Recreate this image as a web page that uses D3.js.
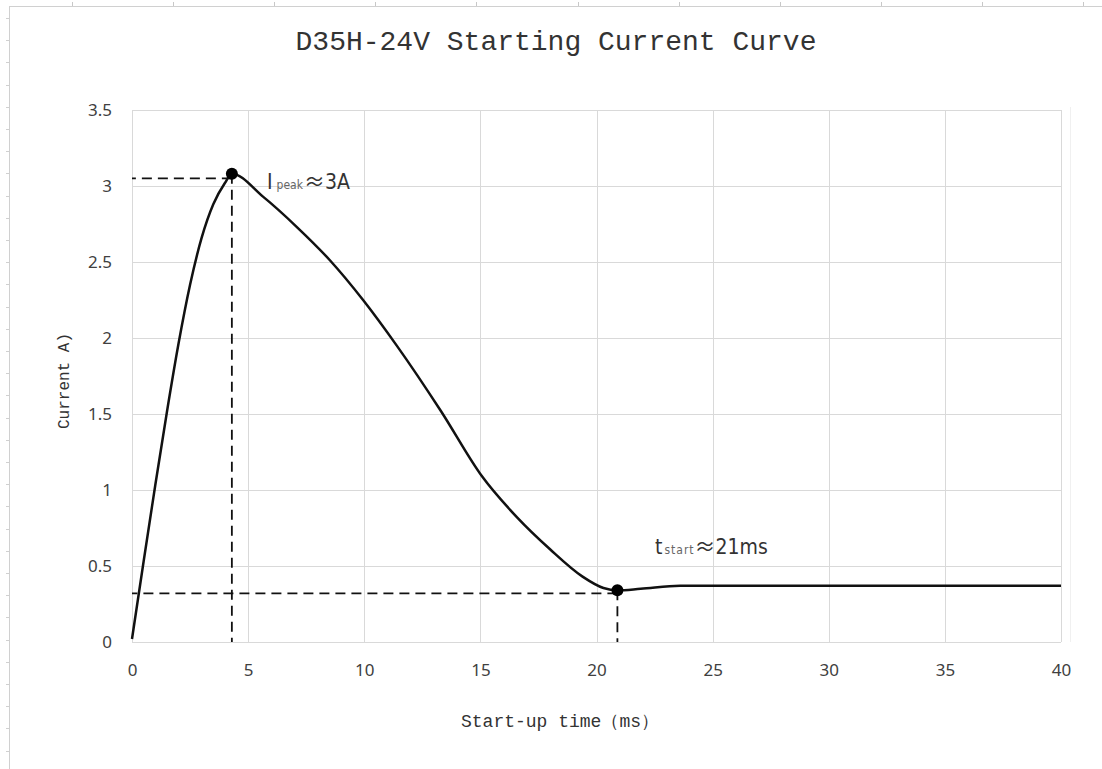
<!DOCTYPE html>
<html>
<head>
<meta charset="utf-8">
<script src="https://cdn.jsdelivr.net/npm/d3@7"></script>
<style>
  body { margin: 0; background: #fff; }
  .tick text { font-family: "Noto Sans", "Open Sans", sans-serif; font-size: 17px; fill: #404040; }
  .mono { font-family: "Liberation Mono", "DejaVu Sans Mono", monospace; fill: #333; }
  .note { font-family: "DejaVu Sans Condensed", "Liberation Sans Narrow", "Noto Sans", sans-serif; fill: #333; }
  .cjk { font-family: "Noto Sans CJK SC", sans-serif; }
</style>
</head>
<body>
<div class="chart"></div>
<script>
// chart values
var timeMs = [0, 0.5, 1.0, 1.5, 2.0, 2.5, 3.0, 3.5, 4.0, 4.3,
  5.64, 7.1, 8.53, 9.95, 11.4, 13.3, 15.07, 16.58, 18.0, 19.4, 20.3, 20.9,
  21.9, 23.6, 25, 30, 35, 40];
var currentA = [0.02, 0.53, 1.03, 1.51, 1.96, 2.35, 2.66, 2.88, 3.02, 3.08,
  2.93, 2.73, 2.51, 2.25, 1.95, 1.52, 1.09, 0.82, 0.61, 0.43, 0.355, 0.34,
  0.35, 0.37, 0.37, 0.37, 0.37, 0.37];

var xTicks = [0, 5, 10, 15, 20, 25, 30, 35, 40];
var yTicks = [0, 0.5, 1, 1.5, 2, 2.5, 3, 3.5];

var peakPoint = { t: 4.3, i: 3.08, guide: 3.05 };
var startPoint = { t: 20.9, i: 0.34, guide: 0.32 };

var svgWidth = 1102;
var svgHeight = 769;

var margin = {
  top: 110,
  right: 41,
  bottom: 127,
  left: 132
};

var width = svgWidth - margin.left - margin.right;
var height = svgHeight - margin.top - margin.bottom;

var svg = d3
  .select(".chart")
  .append("svg")
  .attr("width", svgWidth)
  .attr("height", svgHeight);

// page ruler frame (left and top)
svg.append("line")
  .attr("x1", 9.5).attr("x2", 9.5)
  .attr("y1", 6).attr("y2", svgHeight)
  .attr("stroke", "#d0d0d0");
svg.append("line")
  .attr("x1", 9).attr("x2", svgWidth)
  .attr("y1", 6.5).attr("y2", 6.5)
  .attr("stroke", "#d0d0d0");
d3.range(18, svgHeight, 22.2).forEach(function(y) {
  svg.append("line")
    .attr("x1", 6).attr("x2", 9)
    .attr("y1", Math.round(y) + 0.5).attr("y2", Math.round(y) + 0.5)
    .attr("stroke", "#d0d0d0");
});
d3.range(72, svgWidth, 101.1).forEach(function(x) {
  svg.append("line")
    .attr("x1", Math.round(x) + 0.5).attr("x2", Math.round(x) + 0.5)
    .attr("y1", 2).attr("y2", 6)
    .attr("stroke", "#c8c8c8");
});
svg.append("line")
  .attr("x1", 1070.5).attr("x2", 1070.5)
  .attr("y1", 107).attr("y2", 642)
  .attr("stroke", "#f0f0f0");

var chartGroup = svg.append("g")
  .attr("transform", `translate(${margin.left}, ${margin.top})`);

var xLinearScale = d3.scaleLinear()
  .domain([0, 40])
  .range([0, width]);

var yLinearScale = d3.scaleLinear()
  .domain([0, 3.5])
  .range([height, 0]);

// gridlines
chartGroup.append("g")
  .selectAll("line")
  .data(yTicks)
  .enter()
  .append("line")
  .attr("x1", 0)
  .attr("x2", width)
  .attr("y1", d => Math.round(yLinearScale(d)) + 0.5)
  .attr("y2", d => Math.round(yLinearScale(d)) + 0.5)
  .attr("stroke", "#d9d9d9");

chartGroup.append("g")
  .selectAll("line")
  .data(xTicks)
  .enter()
  .append("line")
  .attr("x1", d => Math.round(xLinearScale(d)) + 0.5)
  .attr("x2", d => Math.round(xLinearScale(d)) + 0.5)
  .attr("y1", 0)
  .attr("y2", height)
  .attr("stroke", "#d9d9d9");

// axes (labels only)
var bottomAxis = d3.axisBottom(xLinearScale)
  .tickValues(xTicks)
  .tickSize(0)
  .tickPadding(22);
var leftAxis = d3.axisLeft(yLinearScale)
  .tickValues(yTicks)
  .tickFormat(d3.format(""))
  .tickSize(0)
  .tickPadding(20);

chartGroup.append("g")
  .attr("transform", `translate(0, ${height})`)
  .call(bottomAxis)
  .call(g => g.select(".domain").remove());

chartGroup.append("g")
  .call(leftAxis)
  .call(g => g.select(".domain").remove());

// dashed guide lines
var guides = [
  [peakPoint.t, peakPoint.guide, 0, peakPoint.guide],
  [peakPoint.t, peakPoint.i, peakPoint.t, 0],
  [startPoint.t, startPoint.guide, 0, startPoint.guide],
  [startPoint.t, startPoint.i, startPoint.t, 0]
];
chartGroup.append("g")
  .selectAll("line")
  .data(guides)
  .enter()
  .append("line")
  .attr("x1", d => xLinearScale(d[0]))
  .attr("y1", d => yLinearScale(d[1]))
  .attr("x2", d => xLinearScale(d[2]))
  .attr("y2", d => yLinearScale(d[3]))
  .attr("stroke", "#111")
  .attr("stroke-width", 1.8)
  .attr("stroke-dasharray", "10,6");

// current curve
var curveData = timeMs.map((t, i) => ({ t: t, i: currentA[i] }));
var lineGen = d3.line()
  .x(d => xLinearScale(d.t))
  .y(d => yLinearScale(d.i))
  .curve(d3.curveMonotoneX);

chartGroup.append("path")
  .datum(curveData)
  .attr("d", lineGen)
  .attr("fill", "none")
  .attr("stroke", "#111")
  .attr("stroke-width", 2.5);

chartGroup.selectAll("circle")
  .data([peakPoint, startPoint])
  .enter()
  .append("circle")
  .attr("cx", d => xLinearScale(d.t))
  .attr("cy", d => yLinearScale(d.i))
  .attr("r", 6)
  .attr("fill", "#000");

// annotations
var peakLabel = svg.append("text")
  .attr("class", "note")
  .attr("x", 267)
  .attr("y", 189)
  .attr("font-size", 21);
peakLabel.append("tspan").text("I");
peakLabel.append("tspan").attr("font-size", 12).attr("fill", "#666").attr("dx", 4).text("peak");
peakLabel.append("tspan").attr("class", "cjk").attr("dx", 1).text("≈");
peakLabel.append("tspan").text("3A");

var startLabel = svg.append("text")
  .attr("class", "note")
  .attr("x", 655)
  .attr("y", 554)
  .attr("font-size", 21);
startLabel.append("tspan").text("t");
startLabel.append("tspan").attr("font-size", 12).attr("fill", "#666").attr("dx", 2).attr("letter-spacing", 1).text("start");
startLabel.append("tspan").attr("class", "cjk").text("≈");
startLabel.append("tspan").text("21ms");

// title and axis labels
svg.append("text")
  .attr("class", "mono")
  .attr("x", 556)
  .attr("y", 50)
  .attr("text-anchor", "middle")
  .attr("font-size", 28)
  .text("D35H-24V Starting Current Curve");

svg.append("text")
  .attr("class", "mono")
  .attr("x", 560)
  .attr("y", 727)
  .attr("text-anchor", "middle")
  .attr("font-size", 18)
  .text("Start-up time（ms）");

svg.append("text")
  .attr("class", "mono")
  .attr("transform", "translate(69, 381) rotate(-90)")
  .attr("text-anchor", "middle")
  .attr("font-size", 16)
  .text("Current A)");
</script>
</body>
</html>
